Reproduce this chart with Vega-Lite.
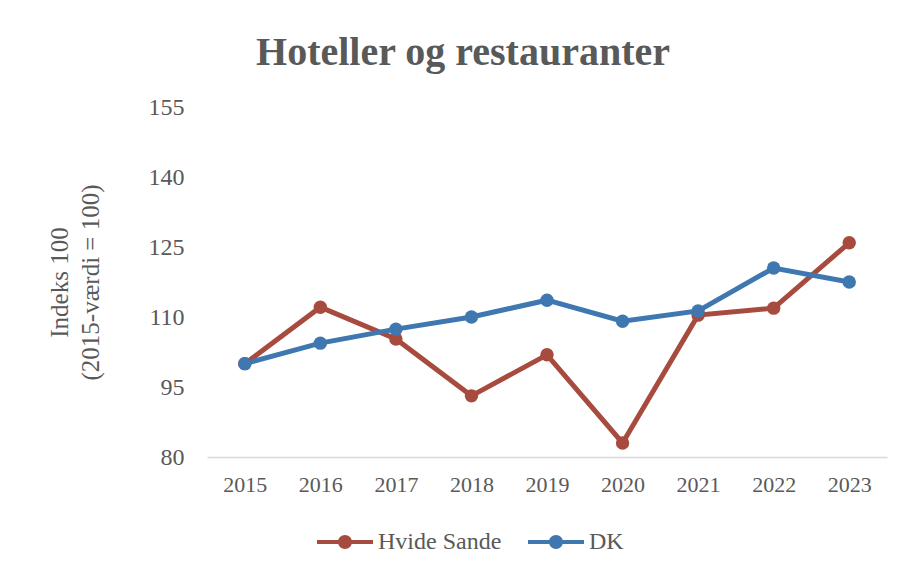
{
  "$schema": "https://vega.github.io/schema/vega-lite/v6.json",
  "width": 680,
  "height": 350,
  "autosize": {"type": "none"},
  "padding": {"left": 207, "top": 107, "right": 15, "bottom": 115},
  "background": "white",
  "config": {
    "view": {"stroke": null},
    "font": "Liberation Serif"
  },
  "title": {
    "text": "Hoteller og restauranter",
    "font": "Liberation Serif",
    "fontSize": 40,
    "fontWeight": "bold",
    "color": "#595959",
    "anchor": "middle",
    "dx": -84,
    "dy": 49,
    "baseline": "alphabetic",
    "offset": 39
  },
  "data": {
    "values": [
      {"year": "2015", "series": "Hvide Sande", "value": 100.0},
      {"year": "2016", "series": "Hvide Sande", "value": 112.1},
      {"year": "2017", "series": "Hvide Sande", "value": 105.3},
      {"year": "2018", "series": "Hvide Sande", "value": 93.1},
      {"year": "2019", "series": "Hvide Sande", "value": 101.9},
      {"year": "2020", "series": "Hvide Sande", "value": 83.0},
      {"year": "2021", "series": "Hvide Sande", "value": 110.4},
      {"year": "2022", "series": "Hvide Sande", "value": 111.9},
      {"year": "2023", "series": "Hvide Sande", "value": 125.9},
      {"year": "2015", "series": "DK", "value": 100.0},
      {"year": "2016", "series": "DK", "value": 104.4},
      {"year": "2017", "series": "DK", "value": 107.4},
      {"year": "2018", "series": "DK", "value": 110.0},
      {"year": "2019", "series": "DK", "value": 113.6},
      {"year": "2020", "series": "DK", "value": 109.1},
      {"year": "2021", "series": "DK", "value": 111.3},
      {"year": "2022", "series": "DK", "value": 120.5},
      {"year": "2023", "series": "DK", "value": 117.5}
    ]
  },
  "encoding": {
    "x": {
      "field": "year",
      "type": "ordinal",
      "scale": {"type": "point", "padding": 0.5},
      "axis": {
        "title": null,
        "labelAngle": 0,
        "labelFont": "Liberation Serif",
        "labelFontSize": 22,
        "labelColor": "#595959",
        "labelPadding": 17,
        "ticks": false,
        "domainColor": "#D9D9D9",
        "domainWidth": 1.5,
        "grid": false
      }
    },
    "y": {
      "field": "value",
      "type": "quantitative",
      "scale": {"domain": [80, 155], "nice": false, "zero": false},
      "axis": {
        "values": [80, 95, 110, 125, 140, 155],
        "title": ["Indeks 100", "(2015-værdi = 100)"],
        "titleFont": "Liberation Serif",
        "titleFontSize": 25,
        "titleFontWeight": "normal",
        "titleColor": "#595959",
        "titleLineHeight": 31,
        "titlePadding": 45,
        "labelFont": "Liberation Serif",
        "labelFontSize": 24,
        "labelColor": "#595959",
        "labelPadding": 23,
        "ticks": false,
        "domain": false,
        "grid": false
      }
    },
    "color": {
      "field": "series",
      "type": "nominal",
      "sort": null,
      "scale": {"domain": ["Hvide Sande", "DK"], "range": ["#A84B3F", "#3F78B0"]},
      "legend": {
        "title": null,
        "orient": "none",
        "direction": "horizontal",
        "legendX": 110,
        "legendY": 407,
        "symbolType": "M-1,-0.075 L1,-0.075 L1,0.075 L-1,0.075 Z M0.25,0 A0.25,0.25 0 1,1 -0.25,0 A0.25,0.25 0 1,1 0.25,0 Z",
        "symbolSize": 3136,
        "symbolStrokeWidth": 0,
        "symbolOpacity": 1,
        "labelFont": "Liberation Serif",
        "labelFontSize": 24,
        "labelColor": "#595959",
        "labelOffset": 5,
        "columnPadding": 26
      }
    }
  },
  "layer": [
    {"mark": {"type": "line", "strokeWidth": 5}},
    {"mark": {"type": "point", "filled": true, "size": 180, "opacity": 1}}
  ]
}
